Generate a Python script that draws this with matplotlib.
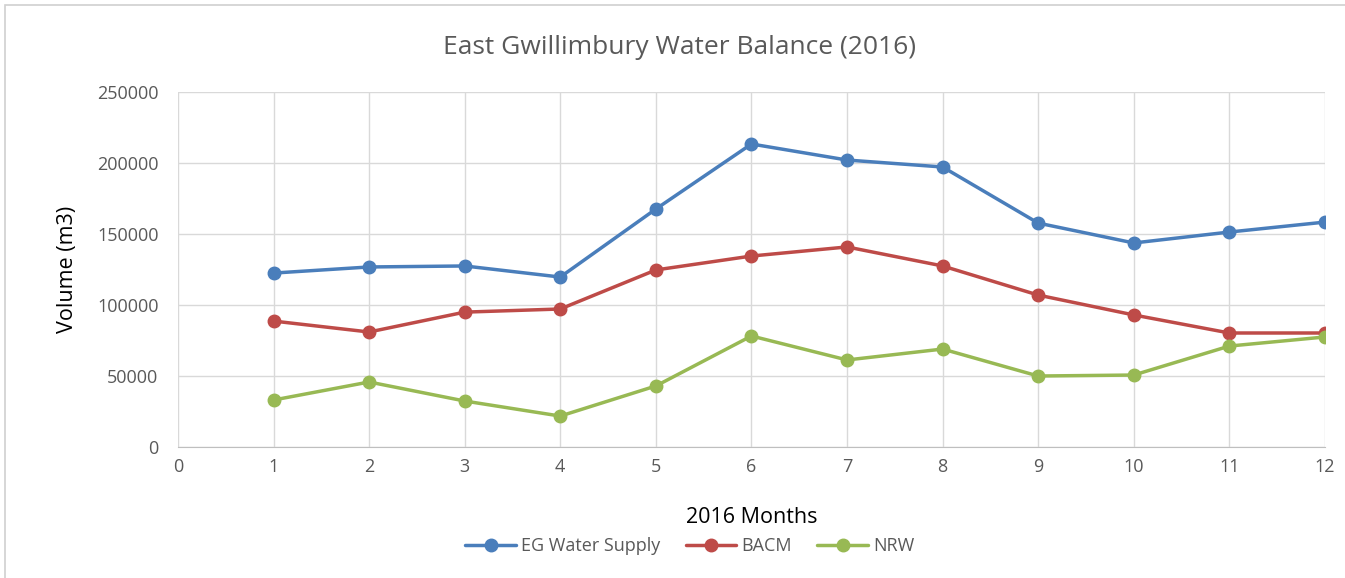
import matplotlib
matplotlib.use("Agg")
import matplotlib.pyplot as plt
from matplotlib.patches import Rectangle

months = list(range(1, 13))
supply = [122500, 126800, 127500, 119700, 167600, 213400, 202100, 197200, 157700, 143700, 151400, 158400]
bacm = [88700, 81000, 95000, 97200, 124700, 134500, 140900, 127500, 107000, 93000, 80300, 80300]
nrw = [33100, 45800, 32400, 21800, 43000, 78200, 61300, 69000, 50000, 50700, 71100, 77500]
series_names = ["EG Water Supply", "BACM", "NRW"]
colors = ["#4a7ebb", "#be4b48", "#98b954"]
xticks = list(range(0, 13))
yticks = [0, 50000, 100000, 150000, 200000, 250000]

plt.rcParams['font.family'] = ['Open Sans', 'DejaVu Sans']

fig = plt.figure(figsize=(13.45, 5.78), dpi=100)
fig.patches.append(Rectangle((0.004, -0.01), 1.2, 1.0 - 0.0087 + 0.01, transform=fig.transFigure,
                             fill=False, edgecolor="#d0d0d0", linewidth=1.2))
ax = fig.add_axes([0.1323, 0.2266, 0.8528, 0.6142])

for vals, name, c in zip([supply, bacm, nrw], series_names, colors):
    ax.plot(months, vals, color=c, linewidth=2.5, marker="o", markersize=9, label=name,
            solid_capstyle="round", zorder=3)

ax.set_xlim(0, 12)
ax.set_ylim(0, 250000)
ax.set_xticks(xticks)
ax.set_yticks(yticks)
ax.set_yticklabels([str(v) for v in yticks])
ax.grid(True, color="#d9d9d9", linewidth=1)
ax.set_axisbelow(True)
for s in ["top", "right", "left"]:
    ax.spines[s].set_visible(False)
ax.spines["bottom"].set_color("#bfbfbf")
ax.tick_params(axis="both", length=0, colors="#595959", labelsize=13)
ax.tick_params(axis="x", pad=8)
ax.tick_params(axis="y", pad=14)

ax.set_ylabel("Volume (m3)", fontsize=15.5, color="#000000", labelpad=14)
ax.set_xlabel("2016 Months", fontsize=15.5, color="#000000", labelpad=22)
fig.suptitle("East Gwillimbury Water Balance (2016)", x=0.505, y=0.94, fontsize=19, color="#595959")

leg = fig.legend(loc="center", bbox_to_anchor=(0.513, 0.055), ncol=3, frameon=False,
                 fontsize=13, handlelength=2.8, columnspacing=1.4, handletextpad=0.3)
for t in leg.get_texts():
    t.set_color("#595959")

fig.savefig("out.png", dpi=100)
